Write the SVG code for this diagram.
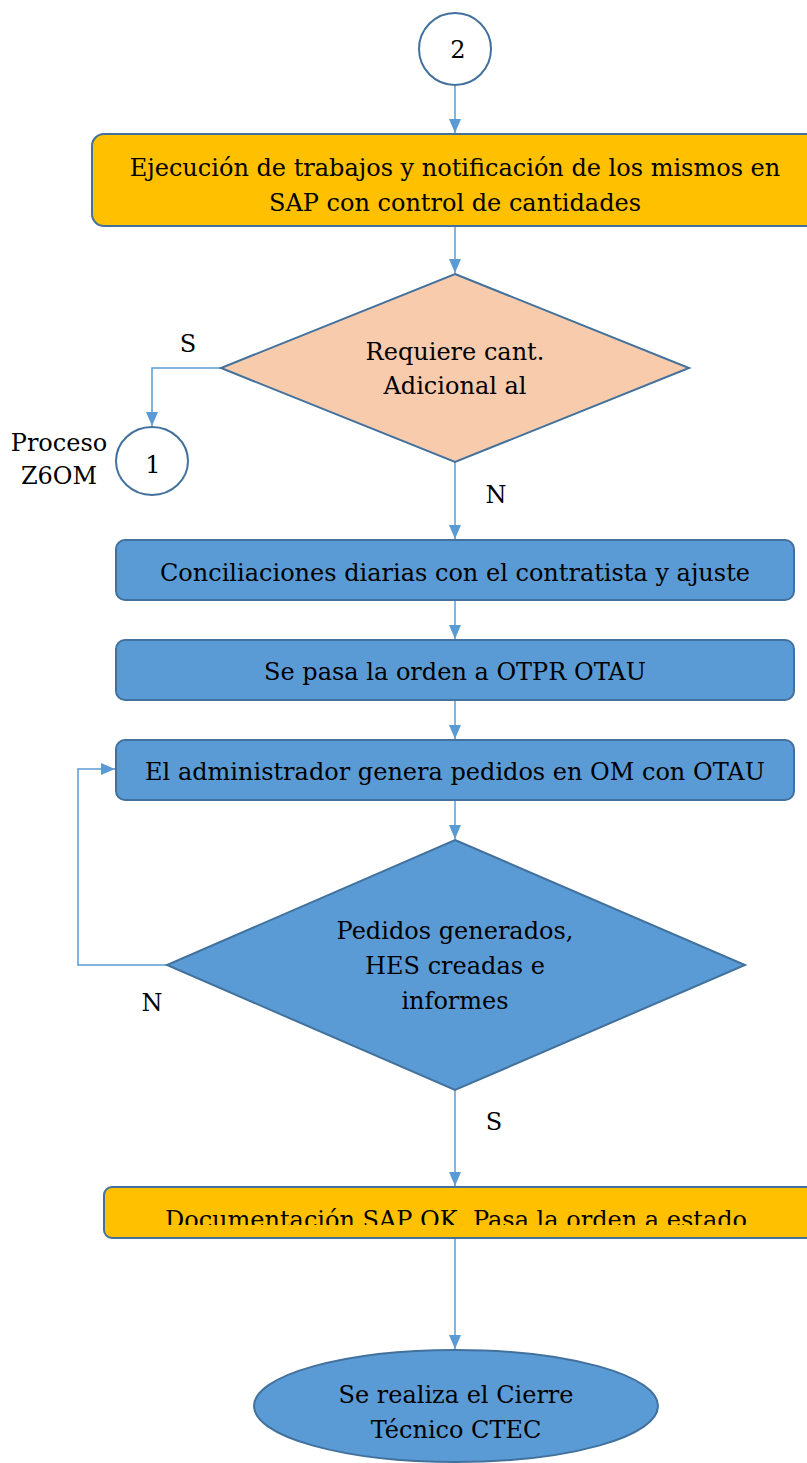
<svg xmlns="http://www.w3.org/2000/svg" width="807" height="1463" viewBox="0 0 807 1463">
  <style>
    .lbl { font-family: "DejaVu Serif", "Liberation Serif", serif; font-size: 24px; fill: #000; text-anchor: middle; }
    .conn { fill: none; stroke: #5B9BD5; stroke-width: 1.5; }
    .orange { fill: #FFC000; stroke: #41719C; stroke-width: 2; }
    .blue { fill: #5B9BD5; stroke: #41719C; stroke-width: 2; }
    .peach { fill: #F8CBAD; stroke: #41719C; stroke-width: 2; }
    .conn-circle { fill: #FFFFFF; stroke: #41719C; stroke-width: 2; }
  </style>
  <defs>
    <marker id="arrow" viewBox="0 0 14 12" refX="14" refY="6" markerWidth="14" markerHeight="12" markerUnits="userSpaceOnUse" orient="auto">
      <path d="M0,0 L14,6 L0,12 Z" fill="#5B9BD5"/>
    </marker>
    <clipPath id="docClip">
      <rect x="104" y="1187" width="703" height="38"/>
    </clipPath>
  </defs>

  <rect width="807" height="1463" fill="#FFFFFF"/>

  <!-- connectors -->
  <g id="connectors">
    <path class="conn" d="M455,85 L455,133" marker-end="url(#arrow)"/>
    <path class="conn" d="M455,226 L455,273" marker-end="url(#arrow)"/>
    <path class="conn" d="M221,368 L152,368 L152,426" marker-end="url(#arrow)"/>
    <path class="conn" d="M455,462 L455,539" marker-end="url(#arrow)"/>
    <path class="conn" d="M455,600 L455,639" marker-end="url(#arrow)"/>
    <path class="conn" d="M455,700 L455,739" marker-end="url(#arrow)"/>
    <path class="conn" d="M455,800 L455,839" marker-end="url(#arrow)"/>
    <path class="conn" d="M167,965 L78,965 L78,769 L115,769" marker-end="url(#arrow)"/>
    <path class="conn" d="M455,1090 L455,1186" marker-end="url(#arrow)"/>
    <path class="conn" d="M455,1238 L455,1349" marker-end="url(#arrow)"/>
    <text class="lbl" x="188" y="352">S</text>
    <text class="lbl" x="496" y="503">N</text>
    <text class="lbl" x="152" y="1011">N</text>
    <text class="lbl" x="494" y="1130">S</text>
  </g>

  <g id="connector-2">
    <ellipse class="conn-circle" cx="455" cy="49" rx="36" ry="36"/>
    <text class="lbl" x="458" y="58">2</text>
  </g>

  <g id="ejecucion">
    <rect class="orange" x="92" y="134" width="730" height="92" rx="12"/>
    <text class="lbl" x="455" y="176">Ejecución de trabajos y notificación de los mismos en</text>
    <text class="lbl" x="455" y="211">SAP con control de cantidades</text>
  </g>

  <g id="decision-cantidad">
    <polygon class="peach" points="455,274 689,368 455,462 221,368"/>
    <text class="lbl" x="455" y="360">Requiere cant.</text>
    <text class="lbl" x="455" y="394">Adicional al</text>
  </g>

  <g id="connector-1">
    <ellipse class="conn-circle" cx="152" cy="461" rx="36" ry="34"/>
    <text class="lbl" x="153" y="473">1</text>
    <text class="lbl" x="59" y="451">Proceso</text>
    <text class="lbl" x="59" y="484">Z6OM</text>
  </g>

  <g id="conciliaciones">
    <rect class="blue" x="116" y="540" width="678" height="60" rx="9"/>
    <text class="lbl" x="455" y="581">Conciliaciones diarias con el contratista y ajuste</text>
  </g>

  <g id="otpr-otau">
    <rect class="blue" x="116" y="640" width="678" height="60" rx="9"/>
    <text class="lbl" x="455" y="680">Se pasa la orden a OTPR OTAU</text>
  </g>

  <g id="pedidos-om">
    <rect class="blue" x="116" y="740" width="678" height="60" rx="9"/>
    <text class="lbl" x="455" y="780">El administrador genera pedidos en OM con OTAU</text>
  </g>

  <g id="decision-pedidos">
    <polygon class="blue" points="455,840 745,965 455,1090 167,965"/>
    <text class="lbl" x="455" y="939">Pedidos generados,</text>
    <text class="lbl" x="455" y="974">HES creadas e</text>
    <text class="lbl" x="455" y="1009">informes</text>
  </g>

  <g id="documentacion">
    <rect class="orange" x="104" y="1187" width="720" height="51" rx="8"/>
    <text class="lbl" x="456" y="1228" clip-path="url(#docClip)">Documentación SAP OK. Pasa la orden a estado</text>
  </g>

  <g id="cierre-tecnico">
    <ellipse class="blue" cx="456" cy="1406" rx="202" ry="56"/>
    <text class="lbl" x="456" y="1403">Se realiza el Cierre</text>
    <text class="lbl" x="456" y="1438">Técnico CTEC</text>
  </g>
</svg>
